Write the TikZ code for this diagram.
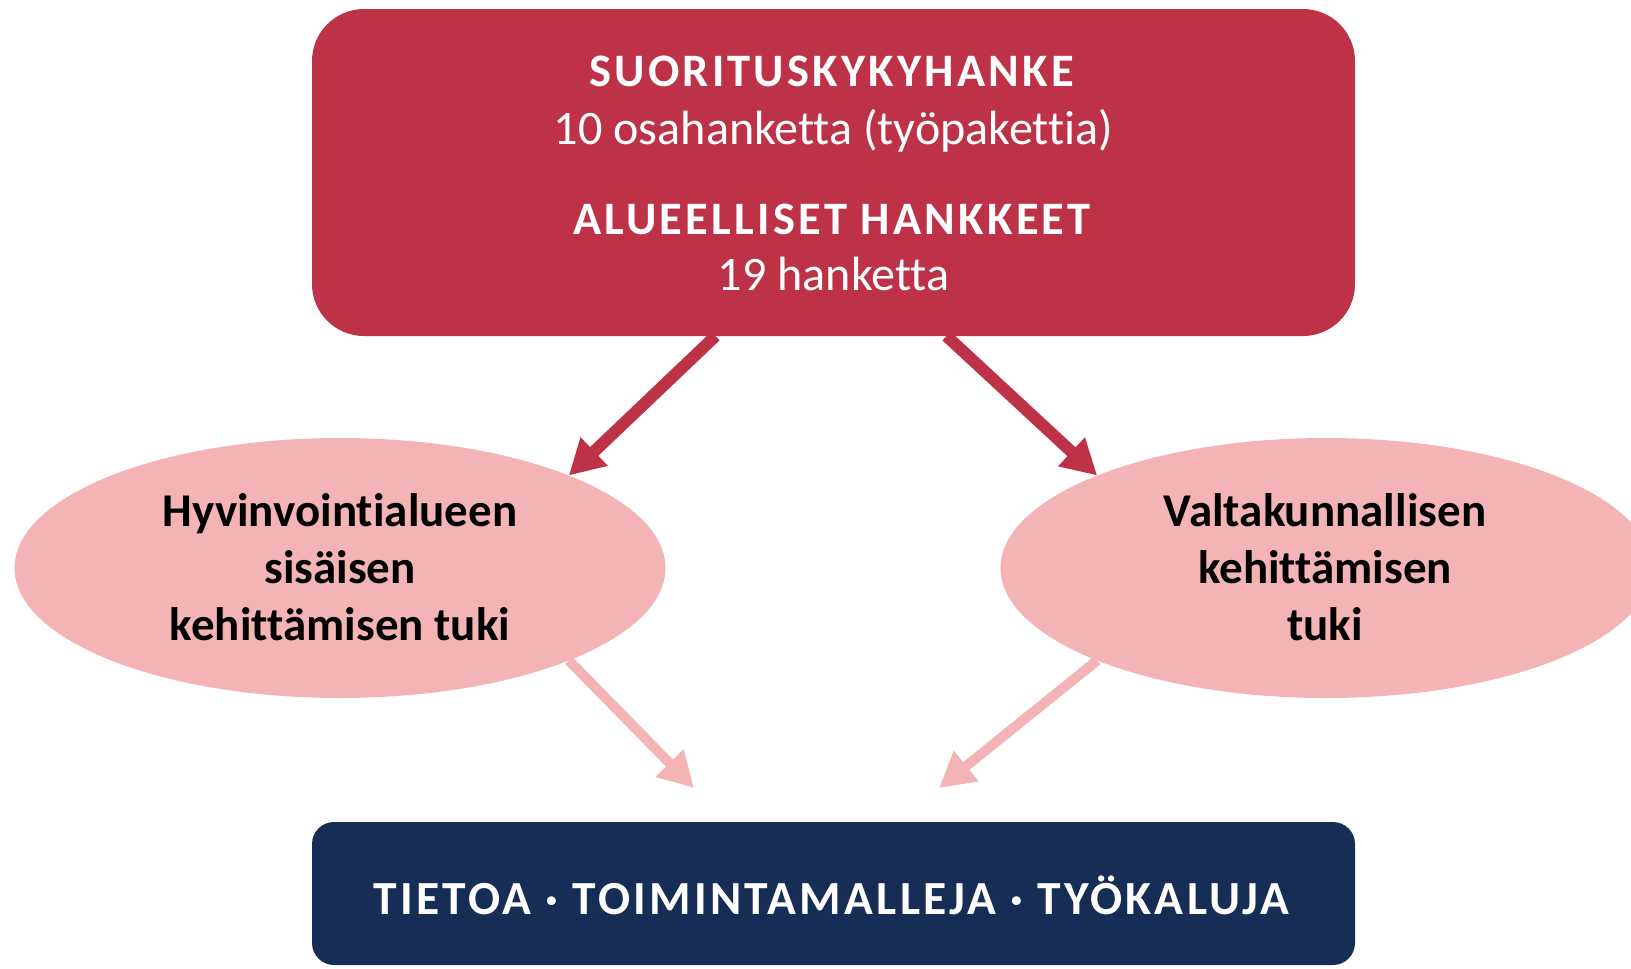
\documentclass[tikz,border=0pt]{standalone}
\usepackage{fontspec}
\setmainfont[Ligatures=NoCommon]{Carlito}
\newfontfamily\spacedfont[LetterSpace=6.9,Ligatures=NoCommon]{Carlito}
\usetikzlibrary{arrows.meta,shapes.geometric}
\definecolor{kred}{RGB}{190,50,71}
\definecolor{kpink}{RGB}{244,180,181}
\definecolor{knavy}{RGB}{22,46,86}
\tikzset{
  redbox/.style={fill=kred, draw=none, rounded corners=52pt, minimum width=1043pt, minimum height=327pt, inner sep=0pt, outer sep=0pt},
  navybox/.style={fill=knavy, draw=none, rounded corners=22pt, minimum width=1043pt, minimum height=143pt, inner sep=0pt, outer sep=0pt},
  ell/.style={ellipse, fill=kpink, draw=none, minimum width=651pt, minimum height=260pt, inner sep=0pt, outer sep=0pt},
  headtxt/.style={anchor=base, text=white, inner sep=0pt, font=\fontsize{46.5}{50}\spacedfont\bfseries},
  subtxt/.style={anchor=base, text=white, inner sep=0pt, font=\fontsize{48.1}{50}\selectfont},
  elltxt/.style={anchor=base, text=black, inner sep=0pt, font=\fontsize{47}{57}\selectfont\bfseries},
  outtxt/.style={anchor=base, text=white, inner sep=0pt, font=\fontsize{47.5}{50}\spacedfont\bfseries},
  darrow/.style={draw=kred, line width=12pt, -{Triangle[length=35pt,width=37pt]}},
  parrow/.style={draw=kpink, line width=10pt, -{Triangle[length=35pt,width=37pt]}}
}
\begin{document}
\begin{tikzpicture}[x=1pt,y=-1pt]
\useasboundingbox (0,0) rectangle (1631,969);
\clip (0,0) rectangle (1631,969);
% boxes
\node[redbox] (top) at (833.5,172.5) {};
\node[navybox] (out) at (833.5,893.5) {};
\node[ell] (hyv) at (340,568) {};
\node[ell] (val) at (1326,568) {};
% texts in top box
\node[headtxt] (t1) at (831.5,86.7) {SUORITUSKYKYHANKE};
\node[subtxt]  (t2) at (833.5,144) {10 osahanketta (työpakettia)};
\node[headtxt] (t3) at (832,234.3) {ALUEELLISET HANKKEET};
\node[subtxt]  (t4) at (833.5,290) {19 hanketta};
% ellipse texts
\node[elltxt] (h1) at (340,526) {Hyvinvointialueen};
\node[elltxt] (h2) at (340,583) {sisäisen};
\node[elltxt] (h3) at (340,640) {kehittämisen tuki};
\node[elltxt] (v1) at (1325,526) {Valtakunnallisen};
\node[elltxt] (v2) at (1325,583) {kehittämisen};
\node[elltxt] (v3) at (1325,640) {tuki};
% bottom text
\node[outtxt] (o1) at (831.5,914) {TIETOA · TOIMINTAMALLEJA · TYÖKALUJA};
% connectors
\coordinate (s1) at ([xshift=-118pt]top.south);
\coordinate (s2) at ([xshift=113pt]top.south);
\coordinate (p1) at (694,788);
\coordinate (p2) at (939,788);
\draw[darrow] (s1) -- (hyv.22);
\draw[darrow] (s2) -- (val.158);
\draw[parrow] (hyv.-22) -- (p1);
\draw[parrow] (val.202) -- (p2);
\end{tikzpicture}
\end{document}
